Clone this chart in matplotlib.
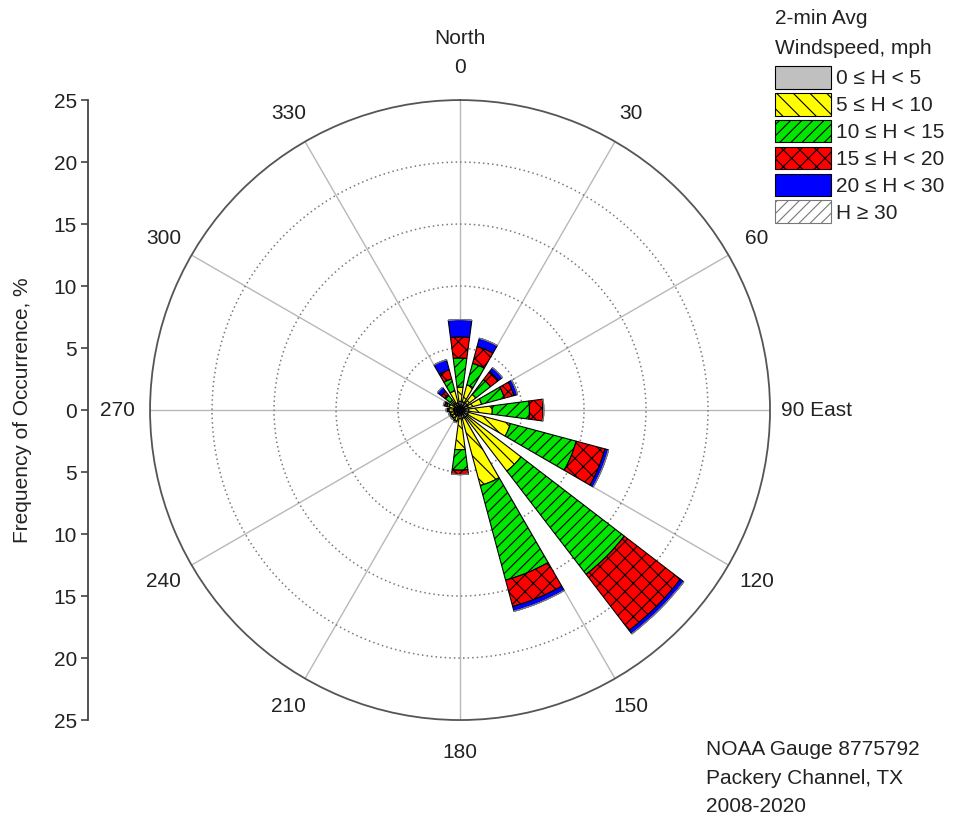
import numpy as np
import matplotlib
matplotlib.use('Agg')
import matplotlib.pyplot as plt
from matplotlib.patches import Patch

plt.rcParams['font.family'] = ['Liberation Sans', 'DejaVu Sans']
plt.rcParams['hatch.linewidth'] = 0.8

# wind direction bins (degrees from north, clockwise): N, NNE, ..., NNW
directions = np.arange(0, 360, 22.5)

# frequency of occurrence (%) per speed class, one value per direction
h_0_5   = [0.7, 0.7, 0.7, 0.7, 0.7, 0.7, 0.7, 0.7, 0.7, 0.5, 0.5, 0.5, 0.5, 0.5, 0.6, 0.6]
h_5_10  = [1.15, 1.4, 0.9, 1.1, 1.9, 3.5, 5.5, 5.6, 2.5, 0.4, 0.3, 0.3, 0.4, 0.4, 0.4, 1.0]
h_10_15 = [2.35, 1.8, 1.5, 1.9, 3.0, 5.5, 10.5, 7.9, 1.65, 0.1, 0.1, 0.1, 0.1, 0.2, 0.55, 1.0]
h_15_20 = [1.7, 1.4, 0.8, 0.8, 1.1, 2.4, 5.7, 2.2, 0.35, 0.05, 0.05, 0.05, 0.1, 0.2, 0.35, 0.75]
h_20_30 = [1.4, 0.7, 0.4, 0.3, 0.05, 0.3, 0.35, 0.4, 0.0, 0.0, 0.0, 0.0, 0.0, 0.1, 0.4, 0.85]
h_30_up = [0.0] * 16

classes = [
    ("0 \u2264 H < 5",   h_0_5,   '#c0c0c0', None,    'black'),
    ("5 \u2264 H < 10",  h_5_10,  '#ffff00', '\\\\',  'black'),
    ("10 \u2264 H < 15", h_10_15, '#00e600', '///',   'black'),
    ("15 \u2264 H < 20", h_15_20, '#ff0000', 'xx',    'black'),
    ("20 \u2264 H < 30", h_20_30, '#0000ff', None,    'black'),
    ("H \u2265 30",      h_30_up, 'white',   '///',   '#777777'),
]

text_color = '#222222'
fs = 15

fig = plt.figure(figsize=(9.61, 8.23), dpi=100)
ax = fig.add_axes([0.1561, 0.1251, 0.6452, 0.7533], projection='polar')
ax.set_theta_zero_location('N')
ax.set_theta_direction(-1)
ax.set_ylim(0, 25)
ax.set_axisbelow(True)

theta = np.deg2rad(directions)
width = np.deg2rad(15)
bottom = np.zeros(len(directions))
handles = []
for label, vals, color, hatch, ec in classes:
    vals = np.array(vals)
    ax.bar(theta, vals, width=width, bottom=bottom, color=color,
           hatch=hatch, edgecolor=ec, linewidth=0.8, zorder=3)
    bottom += vals
    handles.append(Patch(facecolor=color, hatch=hatch, edgecolor=ec,
                         linewidth=0.8, label=label))

# grid: solid spokes every 30 deg, dotted rings every 5 %
ax.set_xticks(np.deg2rad(np.arange(0, 360, 30)))
ax.set_xticklabels([])
ax.set_yticks([5, 10, 15, 20])
ax.set_yticklabels([])
ax.xaxis.grid(True, color='#b8b8b8', linewidth=1.0, linestyle='-')
ax.yaxis.grid(True, color='#7a7a7a', linewidth=1.1, linestyle=(0, (1, 2)))
ax.spines['polar'].set_color('#555555')
ax.spines['polar'].set_linewidth(1.3)
ax.tick_params(axis='x', length=0)

for ang in range(0, 360, 30):
    if ang == 90:
        continue
    ax.text(np.deg2rad(ang), 27.6, str(ang), ha='center', va='center',
            fontsize=fs, color=text_color, clip_on=False)
ax.text(np.deg2rad(90), 25.9, "90 East", ha='left', va='center',
        fontsize=fs, color=text_color, clip_on=False)
ax.text(0, 30.0, "North", ha='center', va='center',
        fontsize=fs, color=text_color, clip_on=False)

# left frequency scale
ax2 = fig.add_axes([0.0916, 0.1251, 0.001, 0.7533])
ax2.set_ylim(-25, 25)
ax2.set_xticks([])
ticks = np.arange(-25, 26, 5)
ax2.set_yticks(ticks)
ax2.set_yticklabels([str(abs(t)) for t in ticks], fontsize=fs, color=text_color)
for side in ['top', 'right', 'bottom']:
    ax2.spines[side].set_visible(False)
ax2.spines['left'].set_color('#444444')
ax2.spines['left'].set_linewidth(1.3)
ax2.tick_params(axis='y', direction='out', length=5, width=1.2, color='#444444', pad=3)
ax2.patch.set_visible(False)
fig.text(23 / 961, 0.5018, "Frequency of Occurrence, %", rotation=90,
         ha='center', va='center', fontsize=fs, color=text_color)

# legend: title lines drawn as text, entries below
fig.text(775 / 961, 1 - 19 / 823, "2-min Avg", ha='left', va='center',
         fontsize=fs, color=text_color)
fig.text(775 / 961, 1 - 48 / 823, "Windspeed, mph", ha='left', va='center',
         fontsize=fs, color=text_color)
leg = fig.legend(handles=handles, loc='upper left',
                 bbox_to_anchor=(775 / 961, 1 - 66 / 823),
                 fontsize=fs, frameon=False, borderpad=0, borderaxespad=0,
                 handlelength=2.7, handleheight=1.3, labelspacing=0.2,
                 handletextpad=0.25)
for t in leg.get_texts():
    t.set_color(text_color)

fig.text(706 / 961, 1 - 740 / 823, "NOAA Gauge 8775792\nPackery Channel, TX\n2008-2020",
         ha='left', va='top', fontsize=fs, color=text_color, linespacing=1.64)

fig.savefig('out.png', dpi=100)
